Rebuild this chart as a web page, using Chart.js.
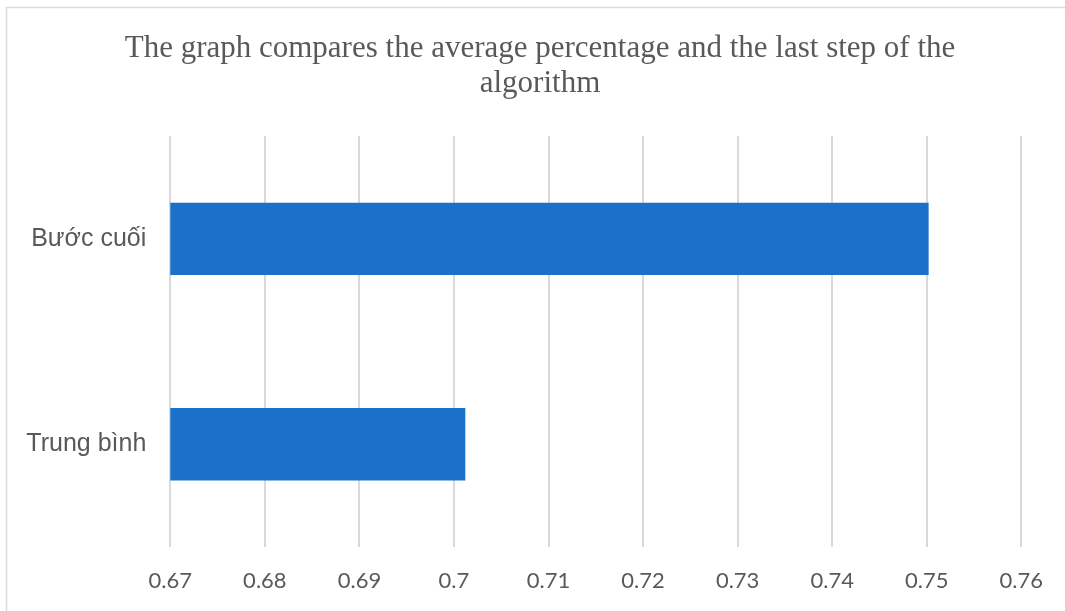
<!DOCTYPE html>
<html>
<head>
<meta charset="utf-8">
<script src="https://cdn.jsdelivr.net/npm/chart.js@4/dist/chart.umd.min.js"></script>
<style>
  html, body { margin: 0; padding: 0; background: #ffffff; }
  #wrap { position: relative; width: 1065px; height: 611px; }
</style>
</head>
<body>
<div id="wrap"><canvas id="c" width="1065" height="611"></canvas></div>
<script>
// Categories (top to bottom) and their values
const categories = ['Bước cuối', 'Trung bình'];
const values = [0.7502, 0.7012];

// Horizontal axis tick labels
const xTickLabels = ['0.67', '0.68', '0.69', '0.7', '0.71', '0.72', '0.73', '0.74', '0.75', '0.76'];
const xMin = 0.67;
const xMax = 0.76;
const xStep = 0.01;

const titleLines = ['The graph compares the average percentage and the last step of the', 'algorithm'];

const textColor = '#595959';
const gridColor = '#d9d9d9';
const barColor = '#1b71c9';

// Thin frame around the chart
const framePlugin = {
  id: 'frame',
  beforeDraw(chart) {
    const ctx = chart.ctx;
    ctx.save();
    ctx.fillStyle = '#ffffff';
    ctx.fillRect(0, 0, chart.width, chart.height);
    ctx.strokeStyle = gridColor;
    ctx.lineWidth = 1.5;
    ctx.beginPath();
    ctx.moveTo(6.5, chart.height);
    ctx.lineTo(6.5, 7.5);
    ctx.lineTo(chart.width, 7.5);
    ctx.stroke();
    ctx.restore();
  }
};

new Chart(document.getElementById('c'), {
  type: 'bar',
  data: {
    labels: categories,
    datasets: [{
      data: values,
      backgroundColor: barColor,
      borderWidth: 0,
      categoryPercentage: 1,
      barPercentage: 0.352
    }]
  },
  plugins: [framePlugin],
  options: {
    indexAxis: 'y',
    responsive: false,
    animation: false,
    devicePixelRatio: 1,
    layout: { padding: { left: 15, right: 0, top: 0, bottom: 0 } },
    plugins: {
      legend: { display: false },
      tooltip: { enabled: false },
      title: {
        display: true,
        text: titleLines,
        color: textColor,
        font: { family: '"Liberation Serif", "Times New Roman", serif', size: 31, weight: 'normal', lineHeight: 1.13 },
        padding: { top: 31, bottom: 35 }
      }
    },
    scales: {
      x: {
        type: 'linear',
        position: 'bottom',
        min: xMin,
        max: xMax,
        border: { display: false },
        grid: { color: gridColor, lineWidth: 2, drawTicks: false },
        ticks: {
          stepSize: xStep,
          color: textColor,
          padding: 21,
          font: { family: 'Lato, "Open Sans", sans-serif', size: 22 },
          callback: (v, i) => xTickLabels[i]
        },
        afterFit: (s) => { s.height = 64; }
      },
      y: {
        type: 'category',
        position: 'left',
        border: { display: false },
        grid: { display: false, drawTicks: false },
        ticks: {
          color: textColor,
          padding: 24,
          font: { family: '"Liberation Sans", Arial, sans-serif', size: 25 }
        },
        afterFit: (s) => { s.width = 155.3; }
      },
      yRight: {
        type: 'linear',
        axis: 'y',
        position: 'right',
        border: { display: false },
        grid: { display: false, drawTicks: false },
        ticks: { display: false },
        afterFit: (s) => { s.width = 43.7; }
      }
    }
  }
});
</script>
</body>
</html>
